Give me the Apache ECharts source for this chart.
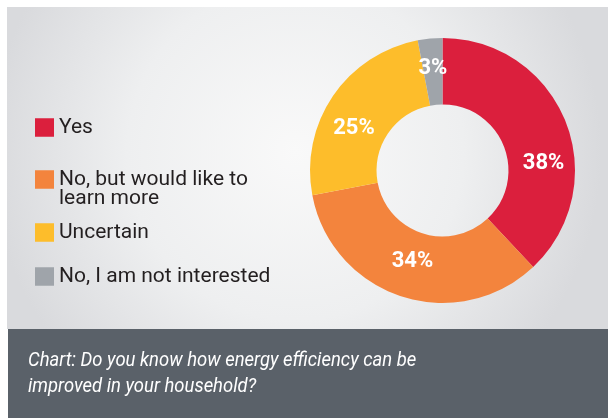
<!DOCTYPE html>
<html>
<head>
<meta charset="utf-8">
<style>
  html, body { margin: 0; padding: 0; background: #ffffff; }
  #chart { width: 608px; height: 418px; }
</style>
<script src="https://cdn.jsdelivr.net/npm/echarts@6/dist/echarts.min.js"></script>
</head>
<body>
<div id="chart"></div>
<script>
// Survey answers and their shares (percent)
const categories = ['Yes', 'No, but would like to learn more', 'Uncertain', 'No, I am not interested'];
const shares = [38, 34, 25, 3];
const legendLabels = ['Yes', 'No, but would like to\nlearn more', 'Uncertain', 'No, I am not interested'];
const caption = 'Chart: Do you know how energy efficiency can be\nimproved in your household?';

const colors = ['#db1f3d', '#f3843d', '#fdbd2b', '#9fa4aa'];
// top of each legend box; the wrapped entry carries an empty first line so
// that its first text line sits level with the swatch
const legendTops = [117, 149.5, 222, 266];

const chart = echarts.init(document.getElementById('chart'), null, { renderer: 'canvas' });

const legends = categories.map((name, i) => {
  const lines = legendLabels[i].split('\n');
  const text = lines.length > 1 ? ' \n' + legendLabels[i] : legendLabels[i];
  return {
    orient: 'vertical',
    left: 35,
    top: legendTops[i],
    padding: 0,
    icon: 'rect',
    itemWidth: 19,
    itemHeight: 18.5,
    data: [name],
    formatter: () => text,
    selectedMode: false,
    textStyle: {
      fontFamily: 'Roboto',
      fontSize: 21,
      color: '#231f20',
      lineHeight: 19.5
    }
  };
});

// Nudges for the in-ring percentage labels
const labelNudge = { 0: [6, 31], 1: [1.5, -6.5], 2: [-4, 15] };

chart.setOption({
  backgroundColor: '#ffffff',
  animation: false,
  color: colors,
  graphic: [
    {
      type: 'rect',
      z: -10,
      shape: { x: 7, y: 7, width: 601, height: 322 },
      style: {
        fill: new echarts.graphic.RadialGradient(0.48, 0.45, 0.95, [
          { offset: 0, color: '#f9f9f9' },
          { offset: 0.55, color: '#eeeff0' },
          { offset: 1, color: '#d9dadd' }
        ])
      },
      silent: true
    },
    {
      type: 'rect',
      z: -10,
      shape: { x: 8, y: 329, width: 600, height: 89 },
      style: { fill: '#5a6169' },
      silent: true
    },
    {
      type: 'text',
      x: 28,
      y: 348,
      scaleX: 0.9,
      style: {
        text: caption,
        fontFamily: 'Roboto',
        fontStyle: 'italic',
        fontSize: 20.5,
        lineHeight: 26,
        fill: '#ffffff',
        verticalAlign: 'top'
      },
      silent: true
    }
  ],
  legend: legends,
  series: [
    {
      type: 'pie',
      center: [442.5, 170.5],
      radius: [66, 132.5],
      startAngle: 90,
      clockwise: true,
      avoidLabelOverlap: false,
      label: {
        show: true,
        position: 'inside',
        formatter: '{c}%',
        color: '#ffffff',
        fontFamily: 'Roboto',
        fontWeight: 'bold',
        fontSize: 22
      },
      labelLine: { show: false },
      labelLayout: function (params) {
        const n = labelNudge[params.dataIndex];
        return n ? { dx: n[0], dy: n[1] } : {};
      },
      itemStyle: { borderWidth: 0 },
      emphasis: { disabled: true },
      data: categories.map((name, i) => ({ name: name, value: shares[i] }))
    }
  ]
});
</script>
</body>
</html>
